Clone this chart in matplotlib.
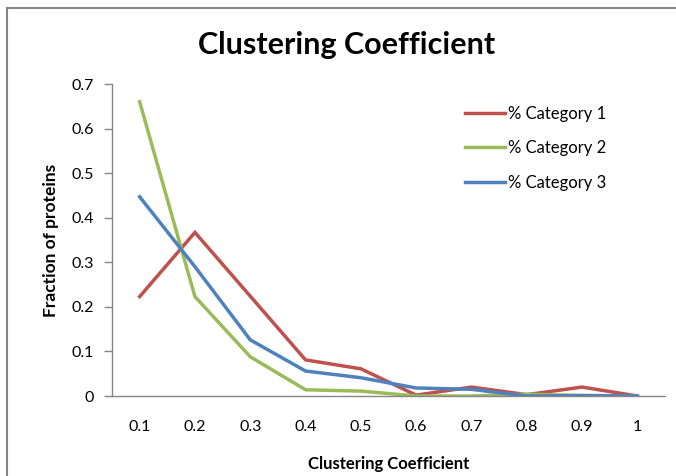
import matplotlib.pyplot as plt
from matplotlib.lines import Line2D

plt.rcParams['font.family'] = ['Lato', 'DejaVu Sans']

# data
coefficients = ['0.1', '0.2', '0.3', '0.4', '0.5', '0.6', '0.7', '0.8', '0.9', '1']
category_1 = [0.223, 0.367, 0.224, 0.081, 0.061, 0.002, 0.020, 0.003, 0.020, 0.000]
category_2 = [0.660, 0.223, 0.088, 0.014, 0.011, 0.000, 0.000, 0.004, 0.001, 0.000]
category_3 = [0.447, 0.290, 0.126, 0.056, 0.041, 0.018, 0.015, 0.000, 0.001, 0.000]
series_names = ['% Category 1', '% Category 2', '% Category 3']
series_colors = ['#C0504D', '#9BBB59', '#4F81BD']

AXIS_GREY = '#868686'

fig = plt.figure(figsize=(6.76, 4.76), dpi=100)
ax = fig.add_axes([112 / 676, 1 - 396 / 476, 553 / 676, 312 / 476])

x = list(range(len(coefficients)))
for vals, name, col in zip([category_1, category_2, category_3], series_names, series_colors):
    ax.plot(x, vals, color=col, lw=2.5, label=name, solid_joinstyle='miter')

ax.set_xlim(-0.5, len(coefficients) - 0.5)
ax.set_ylim(0, 0.7)
ax.set_xticks(x)
ax.set_xticklabels(coefficients)
ax.set_yticks([0, 0.1, 0.2, 0.3, 0.4, 0.5, 0.6, 0.7])
ax.set_yticklabels(['0', '0.1', '0.2', '0.3', '0.4', '0.5', '0.6', '0.7'])
ax.tick_params(axis='x', length=0, pad=17, labelsize=11.5, colors='black')
ax.tick_params(axis='y', length=6, width=1, color=AXIS_GREY, pad=7, labelsize=11.5)

for s in ['top', 'right']:
    ax.spines[s].set_visible(False)
for s in ['left', 'bottom']:
    ax.spines[s].set_color(AXIS_GREY)
    ax.spines[s].set_linewidth(1)

ax.set_ylabel('Fraction of proteins', fontsize=12.5, fontweight='bold', labelpad=9)
ax.set_xlabel('Clustering Coefficient', fontsize=12, fontweight='bold', labelpad=16)
fig.text(0.512, 1 - 45 / 476, 'Clustering Coefficient', fontsize=22, fontweight='bold',
         ha='center', va='center')

leg = ax.legend(loc='upper left', bbox_to_anchor=(465 / 676, 1 - 106 / 476),
                bbox_transform=fig.transFigure, frameon=False, fontsize=12,
                borderpad=0, borderaxespad=0,
                handlelength=2.4, handletextpad=0.2, labelspacing=1.1)

# chart border (left and top only are visible in the reference)
fig.add_artist(Line2D([7 / 676, 7 / 676], [0, 1 - 8 / 476], transform=fig.transFigure,
                      color=AXIS_GREY, lw=1.5))
fig.add_artist(Line2D([7 / 676, 1], [1 - 8 / 476, 1 - 8 / 476], transform=fig.transFigure,
                      color=AXIS_GREY, lw=1.5))

fig.savefig('out.png', dpi=100)
